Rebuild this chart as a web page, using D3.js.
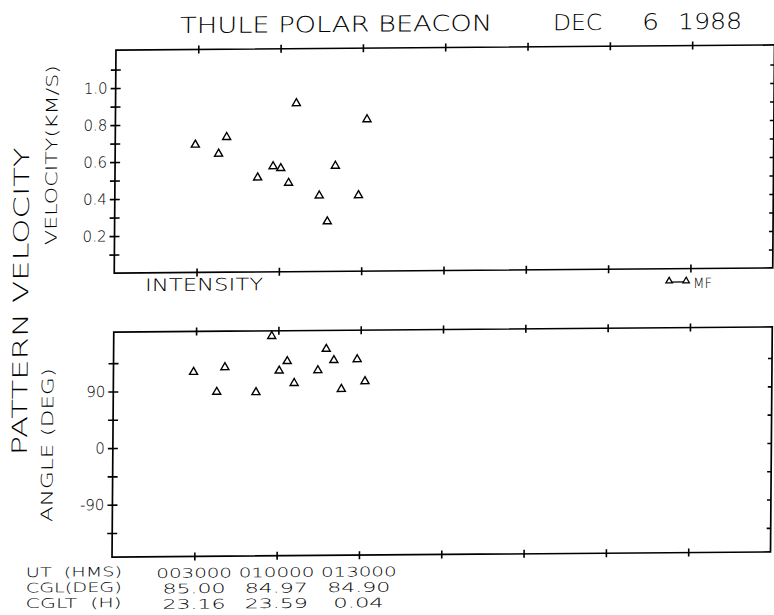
<html>
  <head>
    <meta charset="utf-8" />
    <script src="https://d3js.org/d3.v7.min.js"></script>
    <style>
      body,
      html {
        margin: 0;
        padding: 0;
        background: white;
      }
      text {
        font-family: "DejaVu Sans", sans-serif;
        font-weight: 200;
        fill: black;
      }
    </style>
  </head>
  <body>
    <svg id="chart" width="774" height="615"></svg>
    <script>
      // UT in minutes after 00:00:00
      const utMinutes = [29.2, 37.7, 40.6, 52.0, 57.6, 60.4, 63.3, 65.9, 74.5, 77.5, 80.3, 83.1, 88.8, 91.7];
      // pattern velocity (km/s), null = no value plotted
      const velocity = [0.69, 0.64, 0.73, 0.51, 0.57, 0.56, 0.48, 0.91, 0.41, 0.27, 0.57, null, 0.41, 0.82];
      // pattern angle (deg)
      const angle = [120, 88, 127, 87, 176, 121, 136, 101, 121, 155, 137, 91, 138, 103];

      const timeTicks = [30, 60, 90, 120, 150, 180, 210];
      const utLabelTicks = [30, 60, 90];
      const cglLabels = ["85.00", "84.97", "84.90"];
      const cgltLabels = ["23.16", "23.59", "0.04"];
      const velTicks = d3.range(1, 12).map((d) => d / 10);
      const velLabels = [0.2, 0.4, 0.6, 0.8, 1.0];
      const angleTicks = [-135, -90, -45, 0, 45, 90, 135];
      const angleLabels = [-90, 0, 90];

      const svg = d3.select("#chart");
      // the scanned plot is slightly sheared
      const k = -0.0078;
      const g = svg
        .append("g")
        .attr("transform", `matrix(1,${k},${k},1,${-k * 300},${-k * 444})`);

      const x0 = 114,
        x1 = 772.5;
      const top1 = 47.5,
        bot1 = 270.5;
      const top2 = 329.5,
        bot2 = 554.5;

      const x = d3.scaleLinear().domain([0, 240]).range([x0, x1]);
      const yV = d3.scaleLinear().domain([0, 1.2]).range([bot1, 48.5]);
      const yA = d3.scaleLinear().domain([-180, 180]).range([558.7, 332.3]);

      const tri = d3.symbol().type(d3.symbolTriangle).size(28);

      const pad = (n) => String(n).padStart(2, "0");
      const fmtUT = (m) => pad(Math.floor(m / 60)) + pad(m % 60) + "00";

      const styleAxis = (sel) => {
        sel.select(".domain").remove();
        sel
          .selectAll(".tick line")
          .attr("stroke", "#000")
          .attr("stroke-width", 1.6);
        sel
          .selectAll("text")
          .style("font-size", "15px")
          .style("font-family", "DejaVu Sans")
          .style("font-weight", 200)
          .attr("fill", "black");
      };

      function panel(top, bot, y, ticks, labels, fmt) {
        g.append("rect")
          .attr("x", x0)
          .attr("y", top)
          .attr("width", x1 - x0)
          .attr("height", bot - top)
          .attr("fill", "none")
          .attr("stroke", "black")
          .attr("stroke-width", 1.7);

        // left axis, ticks cross the frame
        g.append("g")
          .attr("transform", `translate(${x0 + 5},0)`)
          .call(
            d3
              .axisLeft(y)
              .tickValues(ticks)
              .tickSize(10)
              .tickPadding(3)
              .tickFormat((d) => (labels.some((l) => Math.abs(l - d) < 1e-6) ? fmt(d) : ""))
          )
          .call(styleAxis);

        // right axis, ticks inward
        g.append("g")
          .attr("transform", `translate(${x1},0)`)
          .call(d3.axisRight(y).tickValues(ticks).tickSize(-4).tickFormat(""))
          .call(styleAxis);

        g.append("g")
          .attr("transform", `translate(0,${top + 4})`)
          .call(d3.axisTop(x).tickValues(timeTicks).tickSize(8).tickFormat(""))
          .call(styleAxis);

        g.append("g")
          .attr("transform", `translate(0,${bot + 4})`)
          .call(d3.axisTop(x).tickValues(timeTicks).tickSize(8).tickFormat(""))
          .call(styleAxis);
      }

      panel(top1, bot1, yV, velTicks, velLabels, d3.format(".1f"));
      panel(top2, bot2, yA, angleTicks, angleLabels, (d) => (d < 0 ? "-" + -d : String(d)));

      const drawPoints = (vals, y) => {
        g.append("g")
          .selectAll("path")
          .data(utMinutes.map((t, i) => [t, vals[i]]).filter((d) => d[1] !== null))
          .enter()
          .append("path")
          .attr("d", tri)
          .attr("transform", (d) => `translate(${x(d[0])},${y(d[1])})`)
          .attr("fill", "white")
          .attr("stroke", "black")
          .attr("stroke-width", 1.4);
      };
      drawPoints(velocity, yV);
      drawPoints(angle, yA);

      // title
      const title = [
        ["THULE POLAR BEACON", 178, 312],
        ["DEC", 551, 49],
        ["6", 640, 17],
        ["1988", 676, 64],
      ];
      g.selectAll(".title")
        .data(title)
        .enter()
        .append("text")
        .attr("x", (d) => d[1])
        .attr("y", 31)
        .attr("textLength", (d) => d[2])
        .attr("lengthAdjust", "spacingAndGlyphs")
        .style("font-size", "22px")
        .text((d) => d[0]);

      // rotated labels
      const vlabel = (txt, xb, yc, len, size) =>
        g
          .append("text")
          .attr("transform", `translate(${xb},${yc}) rotate(-90)`)
          .attr("text-anchor", "middle")
          .attr("textLength", len)
          .attr("lengthAdjust", "spacingAndGlyphs")
          .style("font-size", size + "px")
          .text(txt);
      vlabel("PATTERN  VELOCITY", 28, 298, 308, 21);
      vlabel("VELOCITY(KM/S)", 56, 152, 180, 16);
      vlabel("ANGLE (DEG)", 54, 442, 154, 16);

      g.append("text")
        .attr("x", 145)
        .attr("y", 288.7)
        .attr("textLength", 118)
        .attr("lengthAdjust", "spacingAndGlyphs")
        .style("font-size", "17px")
        .text("INTENSITY");

      // legend
      const legendY = 282.8;
      g.append("line")
        .attr("x1", 669)
        .attr("x2", 686)
        .attr("y1", legendY + 1)
        .attr("y2", legendY + 1)
        .attr("stroke", "black")
        .attr("stroke-width", 1.3);
      g.selectAll(".legtri")
        .data([669, 686])
        .enter()
        .append("path")
        .attr("d", d3.symbol().type(d3.symbolTriangle).size(18))
        .attr("transform", (d) => `translate(${d},${legendY})`)
        .attr("fill", "white")
        .attr("stroke", "black")
        .attr("stroke-width", 1.3);
      g.append("text")
        .attr("x", 693)
        .attr("y", 290)
        .attr("textLength", 19)
        .attr("lengthAdjust", "spacingAndGlyphs")
        .style("font-size", "14px")
        .text("MF");

      // bottom label rows
      const rowNames = ["UT  (HMS)", "CGL(DEG)", "CGLT  (H)"];
      const rowY = [573.7, 589.2, 604.7];
      rowNames.forEach((n, i) => {
        g.append("text")
          .attr("x", 28)
          .attr("y", rowY[i])
          .attr("textLength", 96)
          .attr("lengthAdjust", "spacingAndGlyphs")
          .style("font-size", "13px")
          .style("white-space", "pre")
          .text(n);
      });
      const rows = [utLabelTicks.map(fmtUT), cglLabels, cgltLabels];
      rows.forEach((labels, i) => {
        g.selectAll(".row" + i)
          .data(labels)
          .enter()
          .append("text")
          .attr("x", (d, j) => x(utLabelTicks[j]))
          .attr("y", rowY[i] + 2)
          .attr("text-anchor", "middle")
          .attr("textLength", (d) => d.length * 12.6)
          .attr("lengthAdjust", "spacingAndGlyphs")
          .style("font-size", "13px")
          .text((d) => d);
      });
    </script>
  </body>
</html>
